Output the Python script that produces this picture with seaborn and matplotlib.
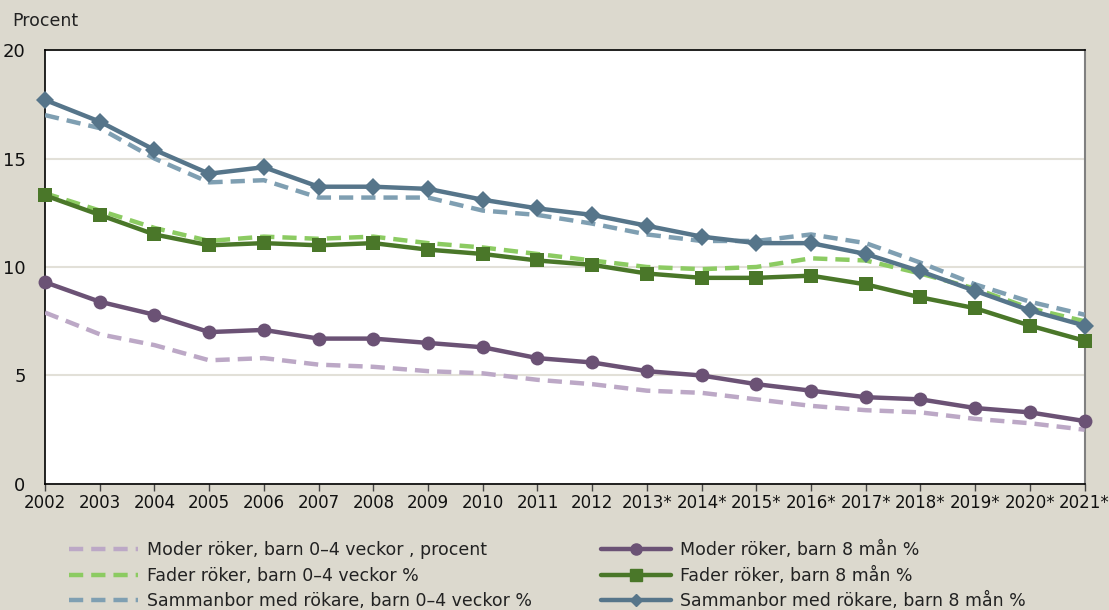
import pandas as pd
import matplotlib.pyplot as plt
import seaborn as sns
from matplotlib.lines import Line2D

years = ['2002', '2003', '2004', '2005', '2006', '2007', '2008', '2009', '2010', '2011',
         '2012', '2013*', '2014*', '2015*', '2016*', '2017*', '2018*', '2019*', '2020*', '2021*']

moder_0_4 = [7.9, 6.9, 6.4, 5.7, 5.8, 5.5, 5.4, 5.2, 5.1, 4.8,
             4.6, 4.3, 4.2, 3.9, 3.6, 3.4, 3.3, 3.0, 2.8, 2.5]
fader_0_4 = [13.4, 12.6, 11.8, 11.2, 11.4, 11.3, 11.4, 11.1, 10.9, 10.6,
             10.3, 10.0, 9.9, 10.0, 10.4, 10.3, 9.7, 9.0, 8.1, 7.5]
samman_0_4 = [17.0, 16.4, 15.0, 13.9, 14.0, 13.2, 13.2, 13.2, 12.6, 12.4,
              12.0, 11.5, 11.2, 11.2, 11.5, 11.1, 10.2, 9.2, 8.4, 7.8]
moder_8 = [9.3, 8.4, 7.8, 7.0, 7.1, 6.7, 6.7, 6.5, 6.3, 5.8,
           5.6, 5.2, 5.0, 4.6, 4.3, 4.0, 3.9, 3.5, 3.3, 2.9]
fader_8 = [13.3, 12.4, 11.5, 11.0, 11.1, 11.0, 11.1, 10.8, 10.6, 10.3,
           10.1, 9.7, 9.5, 9.5, 9.6, 9.2, 8.6, 8.1, 7.3, 6.6]
samman_8 = [17.7, 16.7, 15.4, 14.3, 14.6, 13.7, 13.7, 13.6, 13.1, 12.7,
            12.4, 11.9, 11.4, 11.1, 11.1, 10.6, 9.8, 8.9, 8.0, 7.3]

labels = ['Moder röker, barn 0–4 veckor , procent',
          'Fader röker, barn 0–4 veckor %',
          'Sammanbor med rökare, barn 0–4 veckor %',
          'Moder röker, barn 8 mån %',
          'Fader röker, barn 8 mån %',
          'Sammanbor med rökare, barn 8 mån %']

bg = '#dcd9ce'
sns.set_style('white')
plt.rcParams['font.family'] = ['DejaVu Sans']

fig = plt.figure(figsize=(11.09, 6.10), dpi=100, facecolor=bg)
ax = fig.add_axes([0.0406, 0.2066, 0.9374, 0.7114])
ax.set_facecolor('white')

idx = list(range(len(years)))
dash = (0, (3.2, 1.8))

# dashed series (0-4 veckor)
dashed = [(moder_0_4, '#bca8c6'), (fader_0_4, '#8ccb62'), (samman_0_4, '#7f9fb2')]
for vals, col in dashed:
    df = pd.DataFrame({'x': idx, 'y': vals})
    sns.lineplot(data=df, x='x', y='y', ax=ax, color=col, linewidth=3.2,
                 dashes=False, linestyle=dash, zorder=3)

# solid series (8 man)
solid = [(moder_8, '#6b5275', 'o', 10), (fader_8, '#4a7729', 's', 10), (samman_8, '#56758a', 'D', 9)]
for vals, col, mk, ms in solid:
    df = pd.DataFrame({'x': idx, 'y': vals})
    sns.lineplot(data=df, x='x', y='y', ax=ax, color=col, linewidth=3.2,
                 marker=mk, markersize=ms, markeredgewidth=0, zorder=4, clip_on=False)

ax.set_xlim(0, len(years) - 1)
ax.set_ylim(0, 20)
ax.set_yticks([0, 5, 10, 15, 20])
ax.yaxis.grid(True, color='#e2e0d8', linewidth=1.5)
ax.set_axisbelow(True)
ax.set_xticks(idx)
ax.set_xticklabels(years)
ax.set_xlabel('')
ax.set_ylabel('')
ax.tick_params(axis='x', direction='out', length=5, width=1, color='#444444',
               labelsize=12, pad=2, bottom=True, labelcolor='#111111')
ax.tick_params(axis='y', length=0, labelsize=13, pad=14, labelcolor='#111111')
for s in ['left', 'bottom', 'top']:
    ax.spines[s].set_color('black')
    ax.spines[s].set_linewidth(1.2)
ax.spines['right'].set_color('#808080')
ax.spines['right'].set_linewidth(1.5)

fig.text(0.011, 0.958, 'Procent', fontsize=12.5, color='#222222')

handles = [
    Line2D([], [], color='#bca8c6', lw=3.2, ls=dash),
    Line2D([], [], color='#8ccb62', lw=3.2, ls=dash),
    Line2D([], [], color='#7f9fb2', lw=3.2, ls=dash),
    Line2D([], [], color='#6b5275', lw=3.2, marker='o', ms=8),
    Line2D([], [], color='#4a7729', lw=3.2, marker='s', ms=8),
    Line2D([], [], color='#56758a', lw=3.2, marker='D', ms=6),
]
fig.legend(handles, labels, ncol=2, loc='lower left', bbox_to_anchor=(0.048, -0.026),
           frameon=False, fontsize=12.5, handlelength=4.0, handletextpad=0.5,
           labelspacing=0.42, columnspacing=4.0, labelcolor='#222222')

fig.savefig('out.png', dpi=100, facecolor=bg)
